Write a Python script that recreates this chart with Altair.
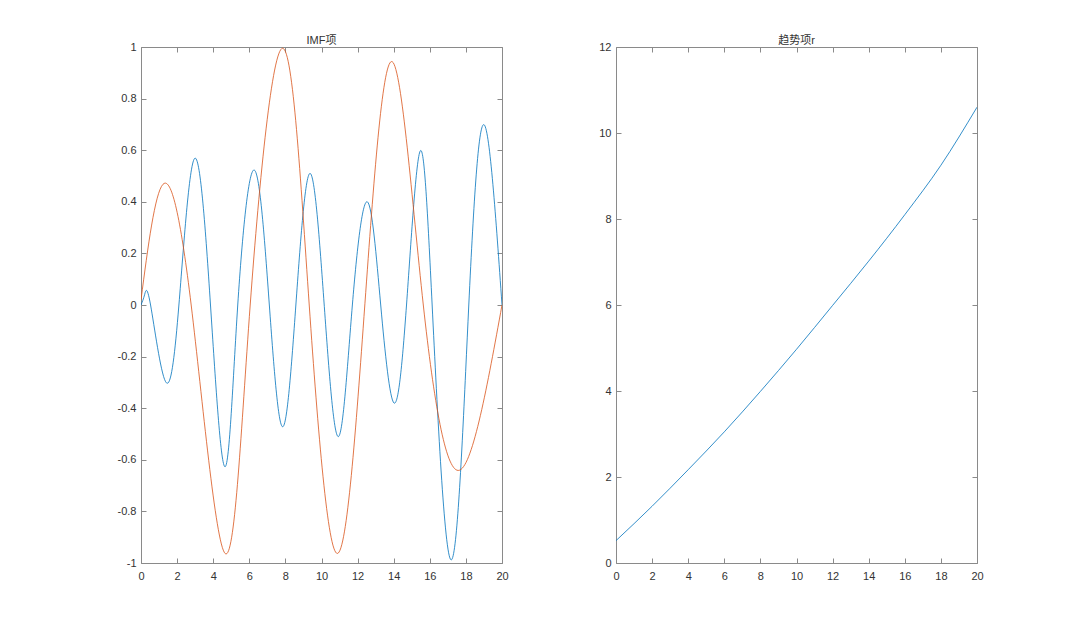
import altair as alt
import pandas as pd

# ---- data ----
imf1_x = [0, 0.2, 0.53, 1.36, 2.1, 2.97, 3.85, 4.66, 5.36, 6.28, 7.11, 7.85, 8.58, 9.36,
          10.15, 10.94, 11.71, 12.54, 13.28, 14.02, 14.71, 15.45, 16.13, 17.18, 18.16, 19.02, 20]
imf1_y = [0, 0.04, 0, -0.297, 0, 0.568, 0, -0.627, 0, 0.523, 0, -0.472, 0, 0.51,
          0, -0.51, 0, 0.40, 0, -0.38, 0, 0.594, 0, -0.988, 0, 0.698, 0]

imf2_x = [0, 1.22, 2.78, 4.66, 6.05, 7.85, 9.32, 10.88, 12.4, 13.92, 15.64, 17.66, 20]
imf2_y = [0.02, 0.468, 0, -0.963, 0, 0.995, 0, -0.963, 0, 0.943, 0, -0.64, 0]

trend_x = [0, 2, 4, 6, 8, 10, 12, 14, 16, 18, 20]
trend_y = [0.52, 1.32, 2.17, 3.05, 3.99, 4.97, 5.99, 7.02, 8.1, 9.25, 10.6]

left_title = "IMF项"
right_title = "趋势项r"
left_yticks = [-1, -0.8, -0.6, -0.4, -0.2, 0, 0.2, 0.4, 0.6, 0.8, 1]
right_yticks = [0, 2, 4, 6, 8, 10, 12]
xticks = [0, 2, 4, 6, 8, 10, 12, 14, 16, 18, 20]

BLUE = "#0072BD"
ORANGE = "#D95319"
FONT = "Liberation Sans, Arial, Noto Sans CJK SC, sans-serif"
AX = "#8a8a8a"
TXT = "#333333"
W, H = 361, 516
TICK = 5

df_imf = pd.concat([
    pd.DataFrame({"x": imf1_x, "y": imf1_y, "s": "imf1", "o": range(len(imf1_x))}),
    pd.DataFrame({"x": imf2_x, "y": imf2_y, "s": "imf2", "o": range(len(imf2_x))}),
])
df_trend = pd.DataFrame({"x": trend_x, "y": trend_y, "o": range(len(trend_x))})


def ax(orient, values, labels, pad):
    kw = dict(orient=orient, values=values, labels=labels, domain=False, ticks=True,
              tickSize=TICK, offset=-TICK, tickColor=AX, tickWidth=1, grid=False, title=None)
    if labels:
        kw.update(labelFont=FONT, labelFontSize=11, labelColor=TXT, labelPadding=pad,
                  labelExpr="'' + datum.value", labelOverlap=False, labelFlush=False)
    else:
        kw.update(minExtent=0, maxExtent=0)
    return alt.Axis(**kw)


def panel(df, ydom, yticks, title, color_enc, interp):
    xs = alt.Scale(domain=[0, 20], nice=False, zero=False)
    ys = alt.Scale(domain=ydom, nice=False, zero=False)
    main = alt.Chart(df).mark_line(strokeWidth=0.8, interpolate=interp, clip=True).encode(
        x=alt.X("x:Q", scale=xs, axis=ax("bottom", xticks, True, 7)),
        y=alt.Y("y:Q", scale=ys, axis=ax("left", yticks, True, 5)),
        order="o:Q",
        **color_enc,
    )
    mirror = alt.Chart(df).mark_line(opacity=0).encode(
        x=alt.X("x:Q", scale=xs, axis=ax("top", xticks, False, 0)),
        y=alt.Y("y:Q", scale=ys, axis=ax("right", yticks, False, 0)),
    )
    return alt.layer(main, mirror).resolve_axis(x="independent", y="independent").properties(
        width=W, height=H,
        title=alt.TitleParams(title, font=FONT, fontSize=11, fontWeight="normal", color=TXT,
                              offset=-4.5, frame="group", anchor="middle"),
    )


left = panel(df_imf, [-1, 1], left_yticks, left_title,
             dict(color=alt.Color("s:N", scale=alt.Scale(domain=["imf1", "imf2"], range=[BLUE, ORANGE]),
                                  legend=None),
                  detail="s:N"), "natural")
right = panel(df_trend, [0, 12], right_yticks, right_title, dict(color=alt.value(BLUE)), "monotone")

chart = alt.hconcat(left, right, spacing=114, bounds="flush").properties(
    padding={"left": 108, "top": 26, "right": 0, "bottom": 0},
    background="white",
).configure_view(stroke=AX, strokeWidth=1)

chart.save("out.html", embed_options={"renderer": "svg", "actions": False})
